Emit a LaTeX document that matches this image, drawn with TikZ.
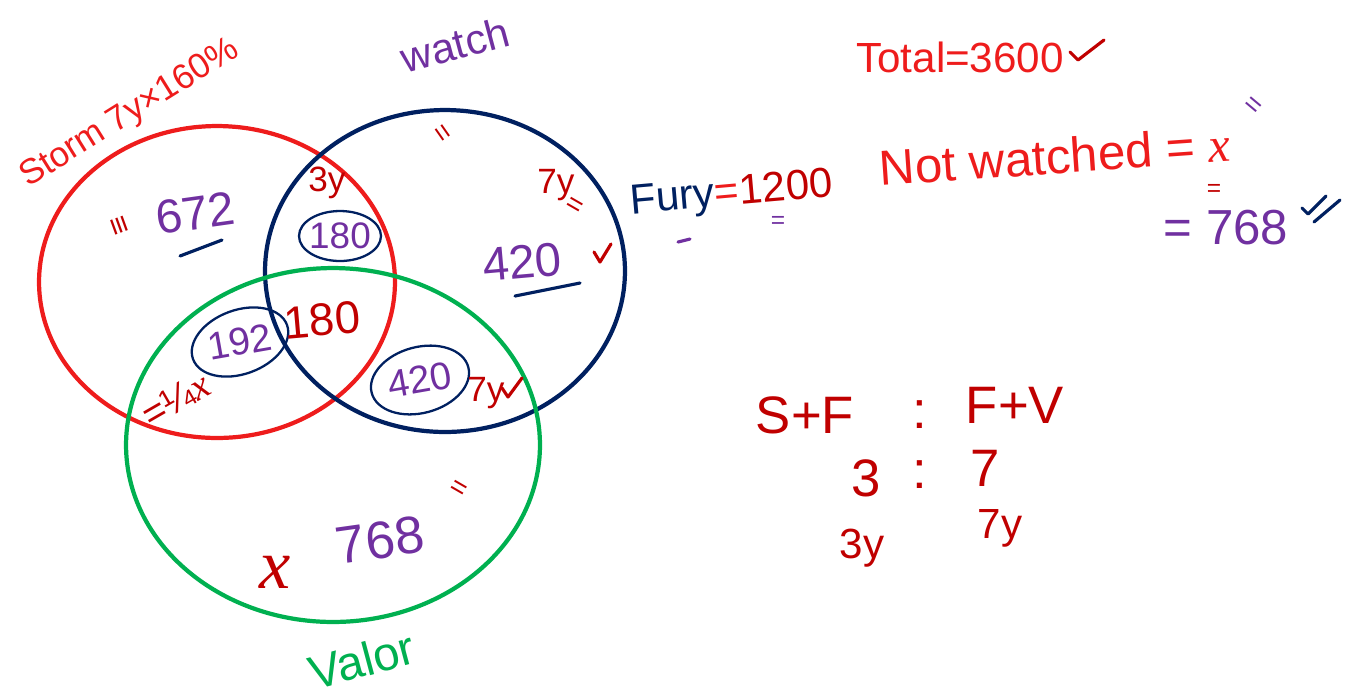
\documentclass[tikz,border=0pt]{standalone}
\usepackage{fontspec}
\setmainfont{Liberation Sans}
\newfontfamily\varfont{Liberation Serif}
\usetikzlibrary{shapes.geometric}
\definecolor{stormred}{RGB}{238,28,28}
\definecolor{darkred}{RGB}{192,0,0}
\definecolor{furynavy}{RGB}{0,32,96}
\definecolor{valorgreen}{RGB}{0,176,80}
\definecolor{countpurple}{RGB}{112,48,160}
\newcommand{\varx}{{\varfont\itshape x}}

\begin{document}
\begin{tikzpicture}[x=0.02cm,y=-0.02cm,
  ring/.style={line width=2.4pt},
  loop/.style={draw=furynavy,line width=1.3pt},
  pen/.style={line width=1.8pt,line cap=round,line join=round},
  fs/.style={font=\fontsize{#1}{#1}\selectfont,inner sep=1pt}]
\useasboundingbox (0,0) rectangle (1358,698);

\draw[ring,stormred] (217,282) ellipse [x radius=3.56cm,y radius=3.12cm];
\draw[ring,furynavy] (445,271) ellipse [x radius=3.6cm,y radius=3.22cm];
\draw[ring,valorgreen] (333,445) ellipse [x radius=4.14cm,y radius=3.54cm];

\node[fs=24,countpurple,rotate=15] (watch) at (455,45) {watch};
\node[fs=20,stormred,rotate=32] (storm) at (130,114) {Storm 7y×160\%};
\node[fs=27,valorgreen,rotate=15] (valor) at (362,660) {Valor};

\node[fs=27,countpurple,rotate=8] (sonly) at (195,213) {672};
\draw[pen,furynavy] (180,256) -- (222,240);
\node[fs=18,darkred,rotate=-70] (smark) at (118,226) {≡};
\node[fs=20,darkred] (sf3y) at (327,183) {3y};
\node[fs=21,countpurple] (sf) at (340,236) {180};
\draw[loop] (sf.center) ellipse [x radius=0.82cm,y radius=0.5cm];

\node[fs=16,darkred,rotate=-55] (fmark) at (441,134) {=};
\node[fs=20,darkred] (f7y) at (556,185) {7y};
\node[fs=16,darkred,rotate=-30] (f7ymark) at (574,207) {=};
\node[fs=27,countpurple,rotate=5] (fonly) at (522,262) {420};
\draw[pen,furynavy] (515,296) -- (580,283);
\draw[pen,darkred] (594,252) -- (600,262) -- (611,244);

\node[fs=22,countpurple,rotate=10] (sv) at (240,342) {192};
\draw[loop,rotate around={20:(sv.center)}] (sv.center) ellipse [x radius=1cm,y radius=0.64cm];
\node[fs=26,darkred,rotate=5] (sfv) at (322,320) {180};
\node[fs=22,darkred,rotate=30] (svx) at (176,400) {=¼\varx};
\node[fs=22,countpurple,rotate=10] (fv) at (420,380) {420};
\draw[loop,rotate around={15:(fv.center)}] (fv.center) ellipse [x radius=1cm,y radius=0.66cm];
\node[fs=20,darkred] (fv7y) at (486,393) {7y};
\draw[pen,darkred] (502,388) -- (508,397) -- (522,378);

\node[fs=30,countpurple,rotate=8] (vonly) at (380,540) {768};
\node[fs=16,darkred,rotate=-30] (vmark) at (458,490) {=};
\node[fs=40,darkred] (none) at (275,572) {\varx};

\node[fs=24,rotate=5] (fury) at (732,195) {\color{furynavy}Fury\color{stormred}=\color{darkred}1200};
\draw[pen,countpurple] (678,242) -- (690,239);
\node[fs=14,countpurple] (furymark) at (778,222) {=};

\node[fs=24,stormred] (total) at (960,57) {Total=3600};
\draw[pen,darkred] (1070,52) -- (1078,60) -- (1104,40);
\node[fs=28,stormred,rotate=4] (notw) at (1055,156) {Not watched = \varx};
\node[fs=16,countpurple,rotate=-40] (notwmark) at (1252,106) {=};
\node[fs=14,darkred] (xmark) at (1214,190) {=};
\node[fs=28,countpurple] (notwval) at (1226,228) {= 768};
\draw[pen,furynavy] (1302,208) -- (1308,214) -- (1326,196) (1314,222) -- (1340,200);

\node[fs=30,darkred] (lhs) at (805,415) {S+F};
\node[fs=30,darkred] (colon1) at (920,415) {:};
\node[fs=30,darkred] (rhs) at (1015,405) {F+V};
\node[fs=30,darkred] (r3) at (866,478) {3};
\node[fs=30,darkred] (colon2) at (920,475) {:};
\node[fs=30,darkred] (r7) at (985,468) {7};
\node[fs=24,darkred] (r3y) at (862,548) {3y};
\node[fs=24,darkred] (r7y) at (1000,528) {7y};
\end{tikzpicture}
\end{document}
